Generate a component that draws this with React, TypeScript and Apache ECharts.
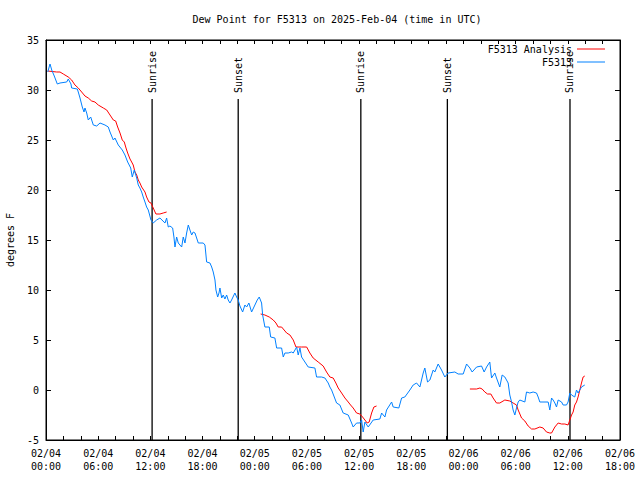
import React, { useEffect, useRef } from 'react';
import * as echarts from 'echarts';

const TITLE = 'Dew Point for F5313 on 2025-Feb-04 (time in UTC)';
const Y_NAME = 'degrees F';
const X_DAYS = ['02/04', '02/05', '02/06'];
const OBS_NAME = 'F5313';
const ANALYSIS_NAME = 'F5313 Analysis';

const X_MIN = 0;
const X_MAX = 66;
const Y_MIN = -5;
const Y_MAX = 35;

// hours since 02/04 00:00 UTC
const obsHours = [
  0.2, 0.46, 0.66, 0.95, 1.3, 1.61, 2.38, 2.56, 2.87, 2.95, 3.6, 3.71, 3.91, 4.17, 4.37, 4.48, 4.68, 4.86, 5.14, 5.44,
  5.83, 6.21, 6.78, 7.16, 7.36, 7.74, 7.93, 8.31, 8.77, 9.08, 9.39, 9.74, 9.92, 10.15, 10.43, 10.61, 10.8, 11.0, 11.18, 11.38,
  11.57, 11.76, 12.07, 12.33, 12.72, 13.1, 13.68, 13.87, 14.06, 14.25, 14.56, 14.71, 14.83, 15.02, 15.21, 15.4, 15.6, 15.78, 15.98, 16.17,
  16.36, 16.55, 16.75, 16.93, 17.13, 17.51, 18.08, 18.28, 18.47, 18.85, 19.05, 19.23, 19.43, 19.54, 19.74, 19.89, 20.0, 20.2, 20.38, 20.57,
  20.77, 20.95, 21.15, 21.34, 21.72, 21.92, 22.1, 22.3, 22.61, 22.87, 23.07, 23.33, 23.64, 24.02, 24.29, 24.52, 24.79, 24.91, 25.17, 25.67,
  25.83, 26.32, 26.52, 27.09, 27.28, 27.47, 27.85, 28.24, 28.43, 28.82, 29.0, 29.2, 29.39, 30.15, 30.92, 31.11, 31.69, 32.07, 32.45, 32.64,
  32.84, 33.41, 33.79, 34.17, 34.75, 35.14, 35.32, 35.71, 36.09, 36.29, 36.47, 36.67, 37.05, 37.62, 38.39, 38.59, 38.97, 39.16, 39.74, 39.92,
  40.57, 40.89, 41.26, 41.84, 42.22, 42.61, 42.99, 43.37, 43.56, 43.87, 44.14, 44.52, 44.71, 45.09, 45.48, 45.86, 46.24, 47.01, 47.39, 47.97,
  48.36, 48.74, 49.0, 49.51, 50.08, 50.38, 50.66, 51.03, 51.23, 51.61, 51.8, 52.18, 52.45, 52.76, 52.95, 53.14, 53.33, 53.53, 53.71, 53.91,
  54.1, 54.29, 54.48, 55.06, 55.25, 55.63, 56.01, 56.4, 56.59, 56.78, 57.74, 57.93, 58.13, 58.31, 58.51, 58.7, 58.89, 59.28, 59.46, 59.85,
  60.03, 60.23, 60.43, 60.8, 61.0, 61.18, 61.38, 61.57, 61.95,
];
const obsValues = [
  31.8, 32.6, 32.0, 31.4, 30.6, 30.7, 30.8, 31.1, 30.6, 30.2, 30.1, 29.8, 29.2, 28.3, 27.8, 28.2, 27.7, 27.0, 27.3, 26.5,
  26.4, 26.7, 26.5, 26.3, 25.8, 25.0, 25.2, 24.5, 24.0, 23.5, 22.8, 22.2, 21.3, 22.0, 21.2, 20.5, 20.2, 19.8, 19.3, 18.8,
  18.3, 18.0, 17.0, 16.7, 17.0, 17.2, 16.7, 17.2, 16.3, 16.4, 16.2, 15.3, 14.3, 15.3, 14.7, 14.5, 14.3, 15.3, 14.7, 15.7,
  16.5, 16.0, 15.5, 15.8, 15.7, 14.7, 14.7, 14.5, 12.8, 12.7, 12.3, 11.8, 11.0, 10.0, 9.3, 9.7, 10.2, 9.2, 9.5, 9.1,
  9.5, 9.0, 8.7, 9.0, 9.7, 9.3, 9.0, 8.4, 7.8, 8.5, 8.3, 8.7, 7.8, 8.5, 9.0, 9.3, 8.7, 7.5, 6.3, 6.3,
  5.3, 5.2, 4.2, 4.2, 3.3, 3.7, 3.7, 3.8, 3.7, 4.3, 3.5, 4.2, 3.3, 2.3, 2.2, 1.3, 1.3, 1.2, 0.7, 0.3,
  0.0, -1.3, -1.5, -2.3, -2.5, -3.3, -3.7, -3.3, -3.3, -3.0, -4.2, -3.2, -3.7, -3.0, -2.9, -2.3, -2.7, -2.0, -1.2, -1.7,
  -1.8, -0.8, -0.7, 0.0, 0.5, 0.7, 0.3, 1.7, 2.2, 0.8, 1.0, 2.0, 1.8, 2.6, 2.0, 1.3, 1.7, 1.8, 1.6, 1.6,
  2.6, 2.2, 1.8, 2.3, 2.4, 1.8, 2.3, 2.8, 1.2, 1.7, 1.2, 0.3, 1.5, 1.3, 1.0, 0.7, -0.5, -1.2, -2.0, -2.5,
  -1.8, -1.2, -1.0, -1.2, -0.2, -0.3, -0.2, -0.3, -0.7, -1.2, -1.2, -2.0, -0.8, -1.0, -1.3, -1.7, -1.0, -1.2, -1.5, -1.5,
  -1.2, -0.3, -0.5, -0.7, 0.0, -0.3, 0.0, 0.3, 0.5,
];

// analysis is shown in three separate runs
const analysisRun1Hours = [
  0.2, 1.23, 1.61, 1.99, 2.56, 2.95, 3.33, 3.71, 4.1, 4.48, 4.86, 5.25, 5.63, 6.01, 6.59, 6.98, 7.36, 7.74, 8.01, 8.24,
  8.51, 8.77, 9.0, 9.2, 9.39, 9.66, 9.85, 10.03, 10.23, 10.43, 10.61, 10.8, 11.0, 11.38, 11.57, 11.84, 12.07, 12.33, 12.64, 13.1,
  13.48, 13.87,
];
const analysisRun1Values = [
  31.9, 31.8, 31.8, 31.6, 31.3, 31.0, 30.5, 30.2, 29.8, 29.4, 29.2, 28.9, 28.8, 28.5, 28.2, 28.0, 27.5, 27.0, 26.9, 26.3,
  25.7, 25.0, 24.8, 24.2, 23.7, 23.1, 22.8, 22.5, 21.8, 21.5, 21.0, 20.7, 20.3, 19.8, 19.3, 18.8, 18.7, 18.2, 17.6, 17.6,
  17.7, 17.8,
];
const analysisRun2Hours = [
  24.68, 25.17, 25.67, 26.13, 26.44, 26.7, 27.09, 27.67, 28.05, 28.43, 28.74, 29.39, 29.97, 30.34, 30.72, 31.3, 31.87, 32.26, 32.64, 33.02,
  33.33, 33.6, 33.99, 34.37, 34.75, 35.02, 35.32, 35.71, 36.09, 36.4, 36.67, 36.93, 37.16, 37.44, 37.7, 38.01,
];
const analysisRun2Values = [
  7.6, 7.5, 7.3, 7.0, 6.7, 6.3, 6.3, 5.7, 5.5, 5.0, 4.3, 4.3, 4.3, 3.7, 3.2, 2.8, 2.4, 1.8, 1.3, 1.2,
  0.7, 0.2, -0.3, -0.8, -1.2, -1.5, -1.8, -2.3, -2.4, -2.7, -3.0, -3.3, -3.2, -2.3, -1.7, -1.6,
];
const analysisRun3Hours = [
  48.74, 49.51, 49.89, 50.15, 50.46, 50.77, 51.15, 51.41, 51.8, 52.18, 52.76, 53.33, 53.71, 54.1, 54.29, 54.68, 55.06, 55.44, 55.83, 56.21,
  56.78, 57.16, 57.55, 57.93, 58.13, 58.51, 58.89, 59.28, 59.66, 60.03, 60.23, 60.43, 60.61, 60.8, 61.0, 61.18, 61.38, 61.57, 61.76, 61.95,
];
const analysisRun3Values = [
  0.1, 0.1, 0.2, 0.1, -0.2, -0.4, -0.4, -0.8, -1.3, -1.3, -1.0, -1.1, -1.3, -1.5, -2.0, -2.8, -3.1, -3.6, -3.9, -3.9,
  -3.7, -3.8, -4.2, -4.3, -4.3, -3.7, -3.3, -3.4, -3.4, -3.5, -3.0, -2.5, -2.2, -1.5, -1.2, -0.7, 0.0, 0.7, 1.3, 1.4,
];

const eventHours = [12.2, 22.1, 36.2, 46.15, 60.25];
const eventLabels = ['Sunrise', 'Sunset', 'Sunrise', 'Sunset', 'Sunrise'];
const EVENT_LINE_TOP = 29.1;

const FONT = '"DejaVu Sans Mono", "Liberation Mono", monospace';
const LEGEND_ICON = 'path://M0,0 L28,0 L28,1 L0,1 Z';

function zip(h: number[], v: number[]) {
  return h.map((x, i) => [x, v[i]]);
}

function xLabel(v: number) {
  const day = X_DAYS[Math.floor(v / 24)] ?? '';
  const hh = Math.round(v % 24);
  return `${day}\n${hh < 10 ? '0' : ''}${hh}:00`;
}

export default function App() {
  const ref = useRef<HTMLDivElement>(null);
  useEffect(() => {
    if (!ref.current) return;
    const chart = echarts.init(ref.current, null, { renderer: 'svg' });
    const analysisData: any[] = [
      ...zip(analysisRun1Hours, analysisRun1Values),
      [20, '-'],
      ...zip(analysisRun2Hours, analysisRun2Values),
      [43, '-'],
      ...zip(analysisRun3Hours, analysisRun3Values),
    ];
    const axisCommon = {
      min: X_MIN,
      max: X_MAX,
      interval: 6,
    };
    const xLine = { show: true, onZero: false, lineStyle: { color: '#000', width: 1 } };
    chart.setOption({
      animation: false,
      backgroundColor: '#fff',
      textStyle: { fontFamily: FONT, color: '#000' },
      title: {
        text: TITLE,
        left: 332,
        top: 9,
        textAlign: 'center',
        textStyle: { fontFamily: FONT, fontSize: 10, fontWeight: 'normal', color: '#000' },
      },
      legend: {
        data: [
          { name: ANALYSIS_NAME, icon: LEGEND_ICON },
          { name: OBS_NAME, icon: LEGEND_ICON },
        ],
        orient: 'vertical',
        align: 'right',
        right: 30,
        top: 39,
        itemWidth: 28,
        itemHeight: 10,
        itemGap: 3,
        symbolKeepAspect: true,
        textStyle: { fontFamily: FONT, fontSize: 10, color: '#000' },
      },
      grid: {
        left: 46,
        right: 20,
        top: 40,
        bottom: 40,
        containLabel: false,
        outerBoundsMode: 'none',
        show: true,
        borderColor: '#000',
        borderWidth: 1,
      },
      xAxis: [
        {
          type: 'value',
          ...axisCommon,
          position: 'bottom',
          axisLine: xLine,
          axisTick: { show: true, inside: true, length: 4, lineStyle: { color: '#000' } },
          minorTick: { show: true, splitNumber: 3, length: 4, lineStyle: { color: '#000' } },
          splitLine: { show: false },
          axisLabel: {
            formatter: xLabel,
            fontFamily: FONT,
            fontSize: 10,
            color: '#000',
            lineHeight: 13,
            margin: 7,
          },
        },
        {
          type: 'value',
          ...axisCommon,
          position: 'top',
          axisLine: xLine,
          axisTick: { show: true, inside: true, length: 4, lineStyle: { color: '#000' } },
          minorTick: { show: true, splitNumber: 3, length: 4, lineStyle: { color: '#000' } },
          splitLine: { show: false },
          axisLabel: { show: false },
        },
      ],
      yAxis: [
        {
          type: 'value',
          min: Y_MIN,
          max: Y_MAX,
          interval: 5,
          position: 'left',
          name: Y_NAME,
          nameLocation: 'middle',
          nameGap: 31,
          nameTextStyle: { fontFamily: FONT, fontSize: 10, color: '#000' },
          axisLine: { show: true, onZero: false, lineStyle: { color: '#000', width: 1 } },
          axisTick: { show: true, inside: true, length: 5, lineStyle: { color: '#000' } },
          splitLine: { show: false },
          axisLabel: { fontFamily: FONT, fontSize: 10, color: '#000', margin: 7 },
        },
        {
          type: 'value',
          min: Y_MIN,
          max: Y_MAX,
          interval: 5,
          position: 'right',
          axisLine: { show: true, onZero: false, lineStyle: { color: '#000', width: 1 } },
          axisTick: { show: true, inside: true, length: 5, lineStyle: { color: '#000' } },
          splitLine: { show: false },
          axisLabel: { show: false },
        },
      ],
      series: [
        {
          type: 'custom',
          xAxisIndex: 0,
          yAxisIndex: 0,
          silent: true,
          data: eventHours.map((h) => [h, Y_MIN]),
          encode: { x: 0, y: 1 },
          renderItem: (params: any, api: any) => {
            const t = api.value(0);
            const b = api.coord([t, Y_MIN]);
            const top = api.coord([t, EVENT_LINE_TOP]);
            return {
              type: 'group',
              children: [
                {
                  type: 'line',
                  shape: { x1: b[0], y1: b[1], x2: top[0], y2: top[1] },
                  style: { stroke: '#000', lineWidth: 1.3 },
                },
                {
                  type: 'text',
                  x: top[0],
                  y: top[1] - 6,
                  rotation: Math.PI / 2,
                  style: {
                    text: eventLabels[params.dataIndex],
                    font: `10px ${FONT}`,
                    fill: '#000',
                    align: 'left',
                    textAlign: 'left',
                    verticalAlign: 'middle',
                    textVerticalAlign: 'middle',
                  },
                },
              ],
            };
          },
        },
        {
          name: ANALYSIS_NAME,
          type: 'line',
          xAxisIndex: 0,
          yAxisIndex: 0,
          data: analysisData,
          symbol: 'none',
          showSymbol: false,
          connectNulls: false,
          lineStyle: { color: '#ff0000', width: 1 },
          itemStyle: { color: '#ff0000' },
        },
        {
          name: OBS_NAME,
          type: 'line',
          xAxisIndex: 0,
          yAxisIndex: 0,
          data: zip(obsHours, obsValues),
          symbol: 'none',
          showSymbol: false,
          lineStyle: { color: '#0080ff', width: 1 },
          itemStyle: { color: '#0080ff' },
        },
      ],
    });
    return () => chart.dispose();
  }, []);
  return <div ref={ref} style={{ width: 640, height: 480, position: 'absolute', left: 0, top: 0 }} />;
}
